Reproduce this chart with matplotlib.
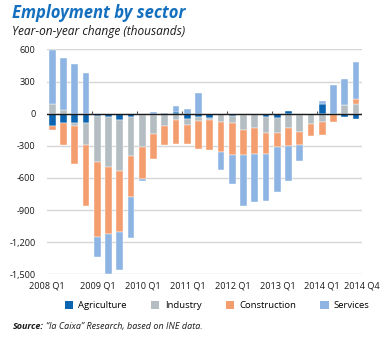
import numpy as np
import matplotlib
matplotlib.use('Agg')
import matplotlib.pyplot as plt
from matplotlib.patches import Patch

plt.rcParams['font.family'] = ['Open Sans', 'DejaVu Sans']

# quarterly year-on-year change in employment, thousands (2008 Q1 .. 2014 Q4)
quarters = [f"{y} Q{q}" for y in range(2008, 2015) for q in range(1, 5)]
agriculture = [-115, -90, -84, -90, -25, -35, -56, -34, -12, -8, -3, 15, -50, -30,
               -40, -5, -22, -15, -5, -31, -43, 28, -15, -3, 90, -4, -35, -53]
industry = [87, 34, -31, -205, -428, -461, -481, -360, -298, -178, -108, -59, -59, -40,
            -15, -73, -65, -133, -131, -146, -133, -130, -152, -95, -78, 0, 78, 87]
construction = [-40, -202, -350, -564, -698, -626, -564, -384, -301, -233, -183, -226, -170, -260,
                -283, -279, -298, -236, -236, -195, -133, -171, -127, -110, -124, -70, 5, 46]
services = [510, 487, 459, 381, -183, -375, -356, -385, -21, 15, 10, 57, 47, 195,
            0, -171, -273, -480, -453, -440, -425, -326, -146, 0, 28, 264, 238, 351]

series = [("Agriculture", agriculture, "#0b64b0"),
          ("Industry", industry, "#b3bdc2"),
          ("Construction", construction, "#f49d6e"),
          ("Services", services, "#8db4e2")]

tick_pos = [-0.5, 4, 8, 12, 16, 20, 24, 27.5]
tick_lab = ["2008 Q1", "2009 Q1", "2010 Q1", "2011 Q1", "2012 Q1", "2013 Q1", "2014 Q1", "2014 Q4"]
yticks = [600, 300, 0, -300, -600, -900, -1200, -1500]

fig = plt.figure(figsize=(3.86, 3.38), dpi=100)
ax = fig.add_axes([0.121, 0.188, 0.816, 0.666])

x = np.arange(len(quarters))
pos_base = np.zeros(len(x))
neg_base = np.zeros(len(x))
for name, vals, col in series:
    v = np.array(vals, dtype=float)
    bottom = np.where(v >= 0, pos_base, neg_base)
    ax.bar(x, v, bottom=bottom, width=0.6, color=col, edgecolor='white', linewidth=0.3, zorder=3)
    pos_base += np.where(v >= 0, v, 0)
    neg_base += np.where(v < 0, v, 0)

ax.set_xlim(-0.5, 27.5)
ax.set_ylim(-1500, 600)
ax.set_yticks(yticks)
ax.set_yticklabels([f"{v:,}" for v in yticks])
ax.grid(axis='y', color='#d6d6d6', linewidth=1.0, zorder=0)
ax.axhline(0, color='#1a1a1a', linewidth=1.0, zorder=4)
# year separators on the zero line
ax.vlines(np.arange(3.5, 28, 4), 0, 25, color='#555555', linewidth=0.8, zorder=4)

ax.set_xticks(tick_pos)
ax.set_xticklabels(tick_lab)
ax.tick_params(axis='both', length=0, labelsize=6.6, colors='#1a1a1a')
ax.tick_params(axis='y', pad=8)
ax.tick_params(axis='x', pad=5)
for s in ax.spines.values():
    s.set_visible(False)

fig.text(0.03, 0.962, "Employment by sector", fontsize=12, fontweight='bold', fontstyle='italic',
         color='#1470bf', va='center')
fig.text(0.03, 0.906, "Year-on-year change (thousands)", fontsize=8.6, fontstyle='italic',
         color='#1a1a1a', va='center')

handles = [Patch(facecolor=c, label=n) for n, _, c in series]
fig.legend(handles=handles, loc='center', bbox_to_anchor=(0.563, 0.095), ncol=4, frameon=False,
           fontsize=6.8, handlelength=0.85, handleheight=0.85, handletextpad=0.55,
           columnspacing=2.6)

fig.text(0.033, 0.033, "Source:", fontsize=6.5, fontweight='bold', fontstyle='italic',
         color='#1a1a1a', va='center')
fig.text(0.119, 0.033, "\u201cla Caixa\u201d Research, based on INE data.", fontsize=6.5,
         fontstyle='italic', color='#1a1a1a', va='center')

fig.savefig("out.png", dpi=100)
